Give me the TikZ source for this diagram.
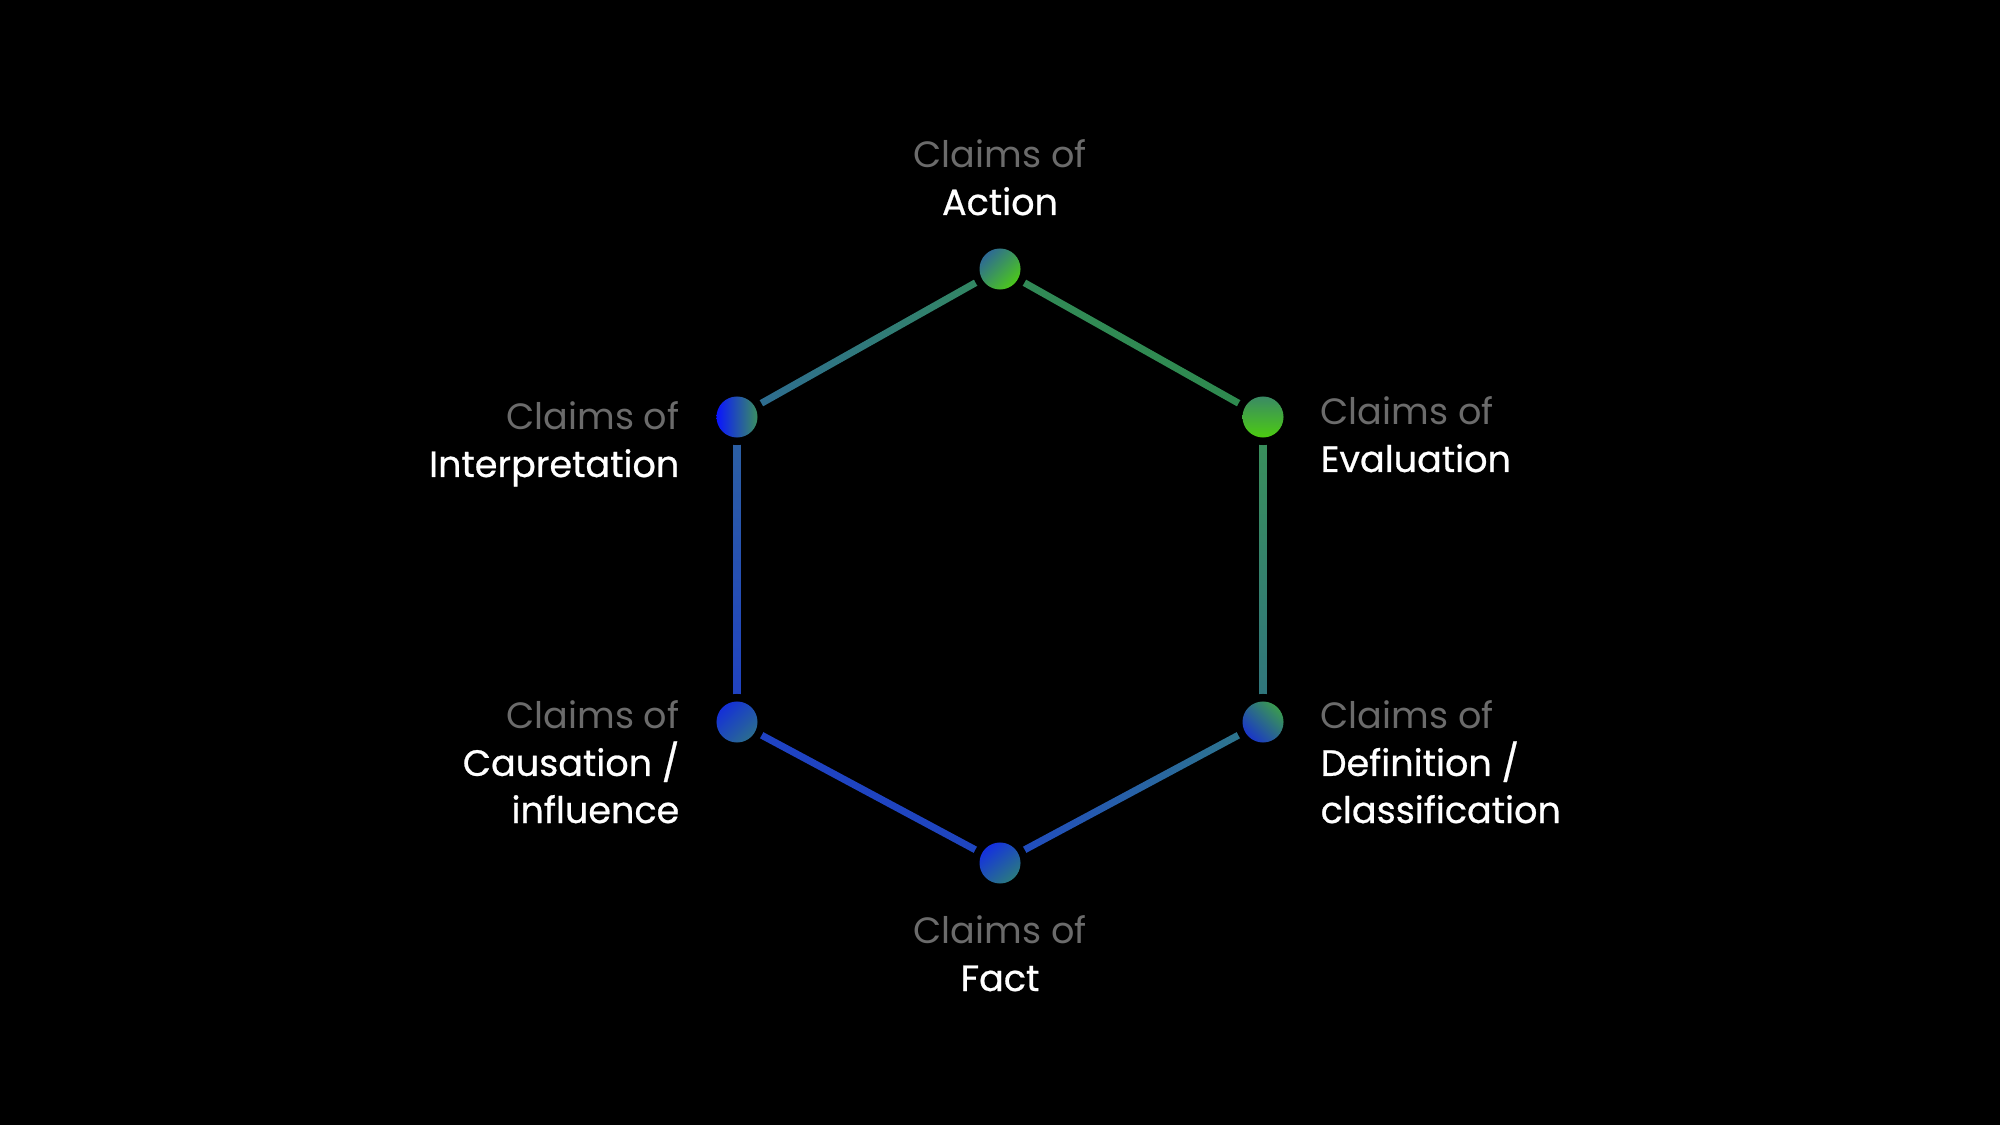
\documentclass[tikz,border=0pt]{standalone}
\usepackage{fontspec}
\setmainfont{Poppins}
\newfontfamily\medfont{Poppins}[FakeBold=0.7]
\usetikzlibrary{calc,backgrounds}
\definecolor{grey1}{HTML}{6B6B6B}
\definecolor{dA1}{HTML}{2D6A94}\definecolor{dA2}{HTML}{4CC81A}
\definecolor{dE1}{HTML}{3A8A64}\definecolor{dE2}{HTML}{4CCC10}
\definecolor{dI1}{HTML}{0A14FF}\definecolor{dI2}{HTML}{3A9060}
\definecolor{dD1}{HTML}{3A9A50}\definecolor{dD2}{HTML}{1A36C8}
\definecolor{dC1}{HTML}{1430D8}\definecolor{dC2}{HTML}{2A6C90}
\definecolor{dF1}{HTML}{1430E0}\definecolor{dF2}{HTML}{2A7A80}
\tikzset{
  dot/.style={circle,minimum size=0.41cm,inner sep=0pt,outer sep=0pt},
  lbl/.style={text=white,font=\fontsize{10.4pt}{13.4pt}\selectfont,inner sep=0pt},
}
\newcommand{\seg}[3]{% from, to, shading options
  \shade[#3] ($(#1.center)!0.035cm!90:(#2.center)$) -- ($(#2.center)!0.035cm!-90:(#1.center)$)
    -- ($(#2.center)!0.035cm!90:(#1.center)$) -- ($(#1.center)!0.035cm!-90:(#2.center)$) -- cycle;}
\newcommand{\cl}{\textcolor{grey1}{Claims of}}
\begin{document}
\begin{tikzpicture}[x=0.01cm,y=-0.01cm]
\useasboundingbox (0,0) rectangle (2000,1125);
% dots
\node[dot,top color=dA1,bottom color=dA2,shading angle=45] (act) at (1000,269) {};
\node[dot,top color=dE1,bottom color=dE2] (eva) at (1263,417) {};
\node[dot,left color=dI1,right color=dI2] (int) at (737,417) {};
\node[dot,top color=dD1,bottom color=dD2,shading angle=-45] (def) at (1263,722) {};
\node[dot,top color=dC1,bottom color=dC2,shading angle=45] (cau) at (737,722) {};
\node[dot,top color=dF1,bottom color=dF2,shading angle=40] (fac) at (1000,863) {};
\begin{scope}[on background layer]
\fill[black] (0,0) rectangle (2000,1125);
\seg{int}{act}{left color={rgb,255:red,45;green,106;blue,150},right color={rgb,255:red,51;green,138;blue,94}}
\seg{act}{eva}{left color={rgb,255:red,50;green,138;blue,88},right color={rgb,255:red,46;green,138;blue,78}}
\seg{eva}{def}{top color={rgb,255:red,58;green,145;blue,88},bottom color={rgb,255:red,47;green,115;blue,128}}
\seg{int}{cau}{top color={rgb,255:red,45;green,98;blue,160},bottom color={rgb,255:red,31;green,63;blue,196}}
\seg{cau}{fac}{left color={rgb,255:red,31;green,66;blue,196},right color={rgb,255:red,31;green,70;blue,190}}
\seg{fac}{def}{left color={rgb,255:red,31;green,72;blue,196},right color={rgb,255:red,47;green,122;blue,136}}
\foreach \n in {act,eva,int,def,cau,fac}{\fill[black] (\n.center) circle[radius=0.28cm];}
\end{scope}
% labels
\node[lbl,anchor=base,align=center] (lA) at (1000,215) {\cl\\\medfont Action};
\node[lbl,anchor=base west,align=left] (lE) at (1320,472) {\cl\\\medfont Evaluation};
\node[lbl,anchor=base east,align=right] (lI) at (680,477) {\cl\\\medfont Interpretation};
\node[lbl,anchor=base west,align=left] (lD) at (1320,823) {\cl\\\medfont Definition /\\\medfont classification};
\node[lbl,anchor=base east,align=right] (lC) at (680,823) {\cl\\\medfont Causation /\\\medfont influence};
\node[lbl,anchor=base,align=center] (lF) at (1000,991) {\cl\\\medfont Fact};
\end{tikzpicture}
\end{document}
